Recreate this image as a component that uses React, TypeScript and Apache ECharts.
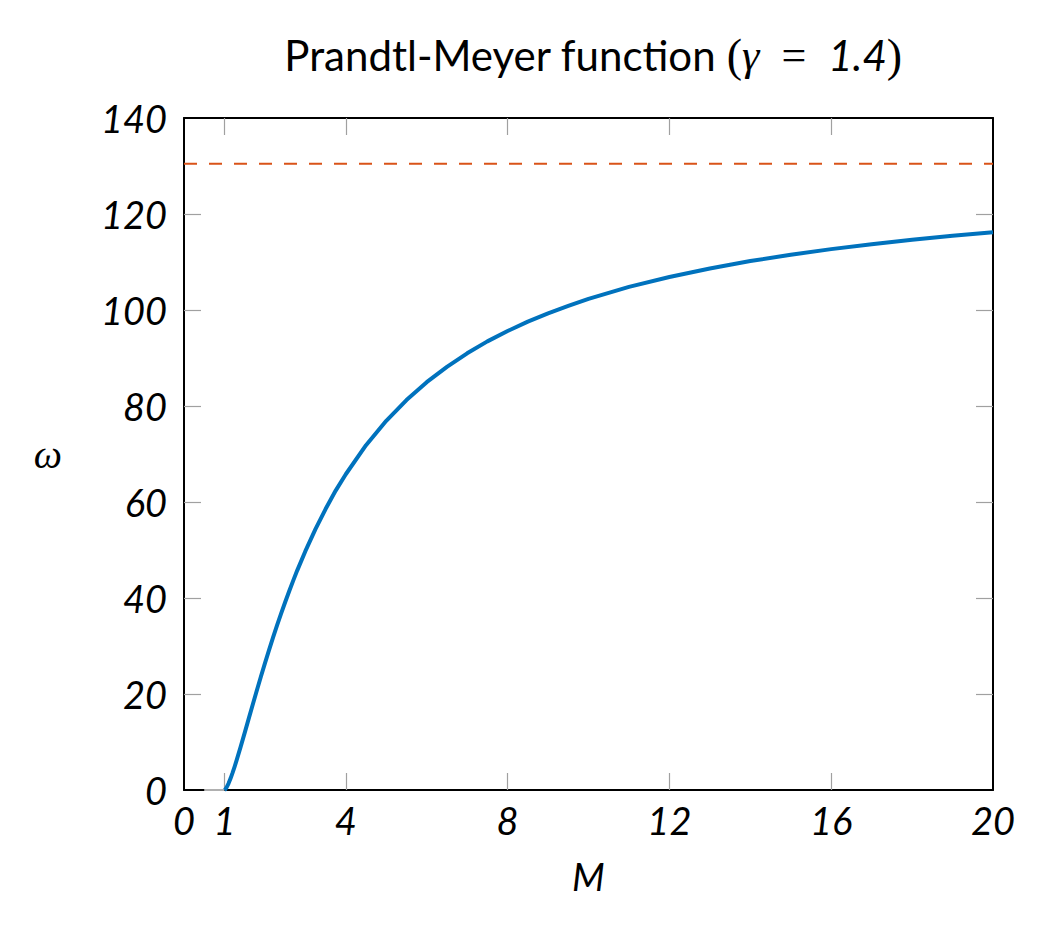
import React, { useEffect, useRef } from "react";
import * as echarts from "echarts";

const machNumbers = [1, 1.01, 1.02, 1.05, 1.1, 1.15, 1.2, 1.25, 1.3, 1.4, 1.5, 1.6, 1.7, 1.8, 1.9, 2.0, 2.1, 2.2, 2.3, 2.4, 2.5, 2.6, 2.7, 2.8, 3.0, 3.25, 3.5, 3.75, 4.0, 4.5, 5.0, 5.5, 6.0, 6.5, 7.0, 7.5, 8.0, 8.5, 9.0, 9.5, 10, 11, 12, 13, 14, 15, 16, 17, 18, 19, 20];
const omegaValues = [0, 0.05, 0.13, 0.49, 1.34, 2.38, 3.56, 4.83, 6.17, 8.99, 11.91, 14.86, 17.81, 20.73, 23.59, 26.38, 29.1, 31.73, 34.28, 36.75, 39.12, 41.41, 43.62, 45.76, 49.76, 54.36, 58.53, 62.38, 65.78, 71.83, 76.92, 81.24, 84.96, 88.15, 90.97, 93.46, 95.62, 97.59, 99.3, 100.84, 102.32, 104.81, 106.88, 108.65, 110.19, 111.51, 112.68, 113.71, 114.63, 115.46, 116.2];
const subsonicM = [0.5, 1];
const subsonicOmega = [0, 0];
const omegaMax = 130.45;
const xTickLabels = [0, 1, 4, 8, 12, 16, 20];
const xInnerTicks = [1, 4, 8, 12, 16];
const yTicks = [0, 20, 40, 60, 80, 100, 120, 140];

const labelFont = {
  fontFamily: "Lato",
  fontStyle: "italic" as const,
  fontWeight: "normal" as const,
  fontSize: 38,
  color: "#000",
};

export default function App() {
  const ref = useRef<HTMLDivElement>(null);
  useEffect(() => {
    document.body.style.margin = "0";
    const chart = echarts.init(ref.current!, null, { renderer: "svg" });
    const tickStyle = { show: true, inside: true, length: 17, lineStyle: { color: "#a0a0a0", width: 1.2 } };
    chart.setOption({
      animation: false,
      backgroundColor: "#fff",
      title: {
        text: "{a|Prandtl-Meyer function }{b|(}{c|γ}{e|\u2002=\u2002}{d|1.4}{b|)}",
        left: 588,
        textAlign: "center",
        top: 27,
        textStyle: {
          fontWeight: "normal",
          rich: {
            a: { fontFamily: "Lato", fontWeight: "normal", fontSize: 42, color: "#000" },
            b: { fontFamily: "Liberation Serif", fontWeight: "normal", fontSize: 46, color: "#000" },
            c: { fontFamily: "Liberation Serif", fontStyle: "italic", fontWeight: "normal", fontSize: 44, color: "#000" },
            e: { fontFamily: "Liberation Serif", fontWeight: "normal", fontSize: 44, color: "#000" },
            d: { fontFamily: "Lato", fontStyle: "italic", fontWeight: "normal", fontSize: 42, color: "#000" },
          },
        },
      },
      grid: { left: 184, right: 63, top: 118, bottom: 138, containLabel: false },
      xAxis: [
        {
          type: "value",
          min: 0,
          max: 20,
          position: "bottom",
          name: "M",
          nameLocation: "middle",
          nameGap: 67,
          nameTextStyle: labelFont,
          axisLine: { show: true, onZero: false, lineStyle: { color: "#000", width: 2 } },
          axisTick: { ...tickStyle, customValues: xInnerTicks },
          axisLabel: { ...labelFont, margin: 11, customValues: xTickLabels },
          splitLine: { show: false },
        },
        {
          type: "value",
          min: 0,
          max: 20,
          position: "top",
          axisLine: { show: true, onZero: false, lineStyle: { color: "#000", width: 2 } },
          axisTick: { ...tickStyle, customValues: xInnerTicks },
          axisLabel: { show: false },
          splitLine: { show: false },
        },
      ],
      yAxis: [
        {
          type: "value",
          min: 0,
          max: 140,
          interval: 20,
          position: "left",
          name: "ω",
          nameLocation: "middle",
          nameGap: 122,
          nameRotate: 0,
          nameTextStyle: { fontFamily: "Liberation Serif", fontStyle: "italic", fontSize: 40, color: "#000" },
          axisLine: { show: true, onZero: false, lineStyle: { color: "#000", width: 2 } },
          axisTick: { ...tickStyle, customValues: yTicks.slice(1, -1) },
          axisLabel: { ...labelFont, margin: 17, customValues: yTicks },
          splitLine: { show: false },
        },
        {
          type: "value",
          min: 0,
          max: 140,
          interval: 20,
          position: "right",
          axisLine: { show: true, onZero: false, lineStyle: { color: "#000", width: 2 } },
          axisTick: { ...tickStyle, customValues: yTicks.slice(1, -1) },
          axisLabel: { show: false },
          splitLine: { show: false },
        },
      ],
      series: [
        {
          type: "line",
          data: subsonicM.map((m, i) => [m, subsonicOmega[i]]),
          showSymbol: false,
          lineStyle: { color: "#b0b0b0", width: 2 },
          z: 3,
        },
        {
          type: "line",
          data: [[0, omegaMax], [20, omegaMax]],
          showSymbol: false,
          lineStyle: { color: "#D95319", width: 2, type: [13, 12] },
          z: 3,
        },
        {
          type: "line",
          data: machNumbers.map((m, i) => [m, omegaValues[i]]),
          showSymbol: false,
          smooth: false,
          lineStyle: { color: "#0072BD", width: 4, join: "round" },
          z: 4,
        },
      ],
    });
    return () => chart.dispose();
  }, []);
  return <div ref={ref} style={{ width: 1056, height: 928 }} />;
}
